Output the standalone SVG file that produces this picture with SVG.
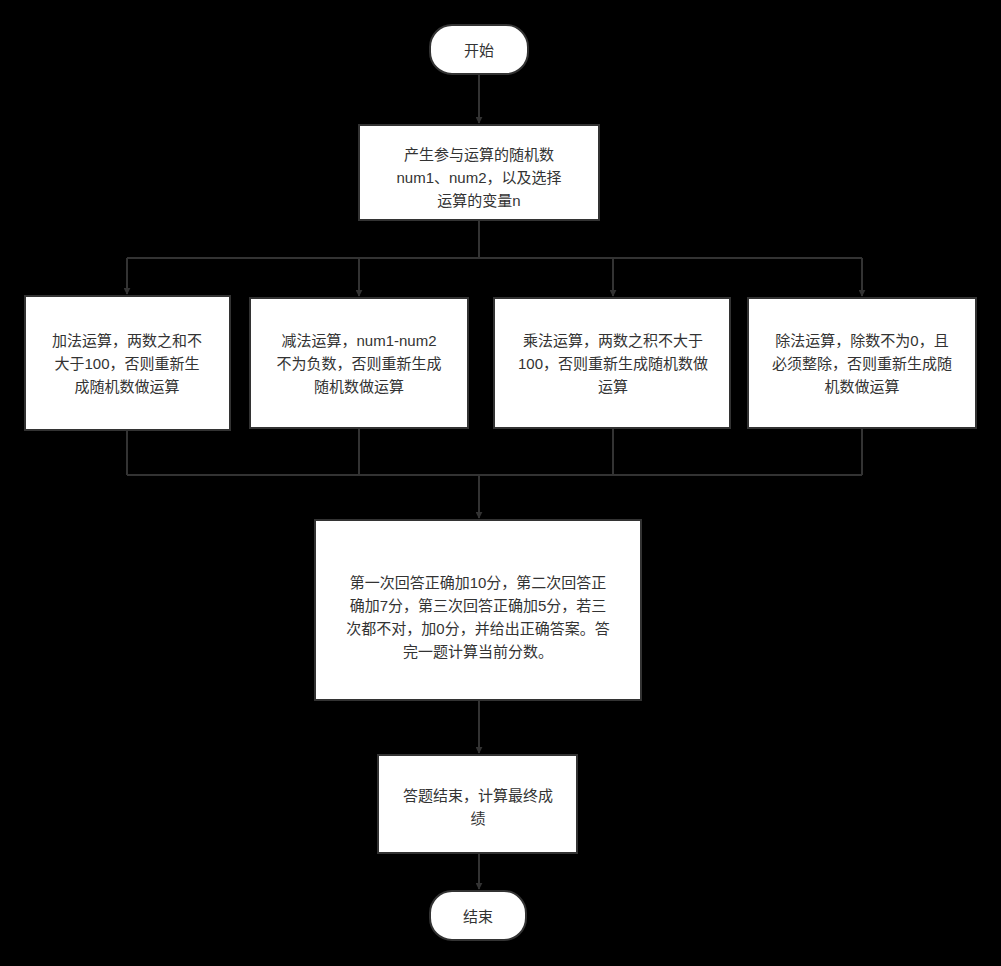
<svg xmlns="http://www.w3.org/2000/svg" width="1001" height="966" viewBox="0 0 1001 966">
<style>
.b{fill:#fff;stroke:#333;stroke-width:2}
.t{font-family:"Liberation Sans","Noto Sans CJK SC",sans-serif;font-size:15px;fill:#333;text-anchor:middle}
.c{stroke:#333;stroke-width:2;fill:none}
</style>
<defs><marker id="a" viewBox="0 0 10 10" refX="9" refY="5" markerWidth="7" markerHeight="7" orient="auto" markerUnits="userSpaceOnUse"><path d="M0,0L10,5L0,10z" fill="#333"/></marker></defs>
<rect width="1001" height="966" fill="#000"/>
<g id="connectors">
<path class="c" d="M479,74V123" marker-end="url(#a)"/>
<path class="c" d="M479,220V258M127,258H862"/>
<path class="c" d="M127,258V294" marker-end="url(#a)"/>
<path class="c" d="M359,258V296" marker-end="url(#a)"/>
<path class="c" d="M613,258V296" marker-end="url(#a)"/>
<path class="c" d="M862,258V296" marker-end="url(#a)"/>
<path class="c" d="M127,430V475M359,428V475M613,428V475M862,428V475M127,475H862"/>
<path class="c" d="M479,475V518" marker-end="url(#a)"/>
<path class="c" d="M479,700V753" marker-end="url(#a)"/>
<path class="c" d="M479,853V889" marker-end="url(#a)"/>
</g>
<g id="start"><rect class="b" x="430" y="25" width="98" height="49" rx="22"/><text class="t" x="479" y="56">开始</text></g>
<g id="gen"><rect class="b" x="359" y="125" width="240" height="95"/><text class="t" x="479" y="160">产生参与运算的随机数</text><text class="t" x="479" y="183">num1、num2，以及选择</text><text class="t" x="479" y="206">运算的变量n</text></g>
<g id="add"><rect class="b" x="25" y="296" width="205" height="134"/><text class="t" x="127" y="346">加法运算，两数之和不</text><text class="t" x="127" y="369">大于100，否则重新生</text><text class="t" x="127" y="392">成随机数做运算</text></g>
<g id="sub"><rect class="b" x="250" y="298" width="218" height="130"/><text class="t" x="359" y="346">减法运算，num1-num2</text><text class="t" x="359" y="369">不为负数，否则重新生成</text><text class="t" x="359" y="392">随机数做运算</text></g>
<g id="mul"><rect class="b" x="494" y="298" width="236" height="130"/><text class="t" x="613" y="346">乘法运算，两数之积不大于</text><text class="t" x="613" y="369">100，否则重新生成随机数做</text><text class="t" x="613" y="392">运算</text></g>
<g id="div"><rect class="b" x="748" y="298" width="228" height="130"/><text class="t" x="862" y="346">除法运算，除数不为0，且</text><text class="t" x="862" y="369">必须整除，否则重新生成随</text><text class="t" x="862" y="392">机数做运算</text></g>
<g id="score"><rect class="b" x="315" y="520" width="326" height="180"/><text class="t" x="478" y="588">第一次回答正确加10分，第二次回答正</text><text class="t" x="478" y="611">确加7分，第三次回答正确加5分，若三</text><text class="t" x="478" y="634">次都不对，加0分，并给出正确答案。答</text><text class="t" x="478" y="657">完一题计算当前分数。</text></g>
<g id="finish"><rect class="b" x="378" y="755" width="199" height="98"/><text class="t" x="478" y="801">答题结束，计算最终成</text><text class="t" x="478" y="824">绩</text></g>
<g id="end"><rect class="b" x="430" y="891" width="96" height="49" rx="22"/><text class="t" x="478" y="922">结束</text></g>
</svg>
